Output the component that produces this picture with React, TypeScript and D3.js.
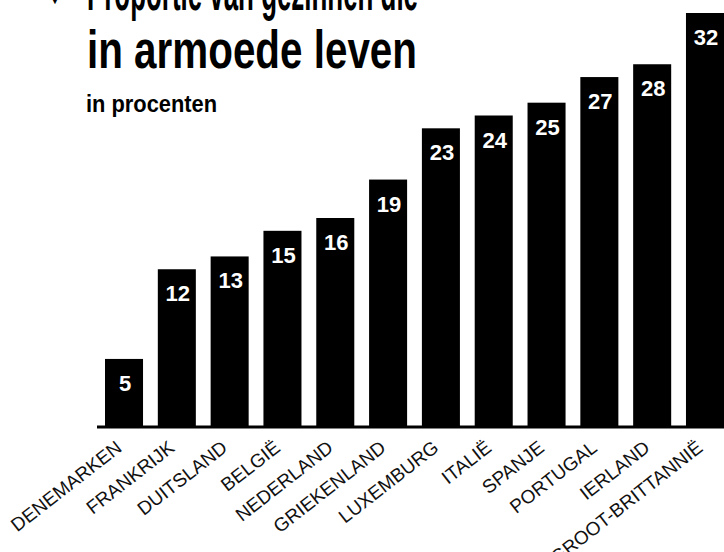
import * as d3 from 'd3'

const countries = [
  'DENEMARKEN', 'FRANKRIJK', 'DUITSLAND', 'BELGIË', 'NEDERLAND', 'GRIEKENLAND',
  'LUXEMBURG', 'ITALIË', 'SPANJE', 'PORTUGAL', 'IERLAND', 'GROOT-BRITTANNIË'
]
const values = [5, 12, 13, 15, 16, 19, 23, 24, 25, 27, 28, 32]
const titleLines = ['Proportie van gezinnen die', 'in armoede leven']
const subtitle = 'in procenten'

const W = 724
const H = 552
const titleFont = '"Liberation Sans Narrow", "Liberation Sans", Arial, sans-serif'
const labelFont = '"Liberation Sans", Arial, sans-serif'

const App = () => {
  const x = d3.scaleBand<string>()
    .domain(countries)
    .range([105, 724])
    .paddingInner(0.28)
    .paddingOuter(0)

  const y = d3.scaleLinear()
    .domain([0, 32])
    .range([423, 13])

  const baseline = y(0) + 4
  const data = countries.map((c, i) => ({ country: c, value: values[i] }))

  return (
    <svg width={W} height={H} style={{ position: 'absolute', left: 0, top: 0, background: '#fff' }}>
      {/* title, partly cut off at the top */}
      <text x={48} y={4} fontSize={14} fontFamily={labelFont}>▼</text>
      <text x={87} y={10} fontSize={53} fontWeight="bold" fontFamily={titleFont}
        textLength={331} lengthAdjust="spacingAndGlyphs">{titleLines[0]}</text>
      <text x={87} y={68} fontSize={53} fontWeight="bold" fontFamily={titleFont}
        textLength={330} lengthAdjust="spacingAndGlyphs">{titleLines[1]}</text>
      <text x={86} y={112} fontSize={23} fontWeight="bold" fontFamily={titleFont}
        textLength={131} lengthAdjust="spacingAndGlyphs">{subtitle}</text>

      {data.map(d => (
        <g key={d.country}>
          <rect x={x(d.country)} y={y(d.value)} width={x.bandwidth()}
            height={baseline - y(d.value)} fill="#000" />
          <text x={x(d.country)! + x.bandwidth() / 2 + 1} y={y(d.value) + 32}
            fill="#fff" fontSize={22} fontWeight="bold" textAnchor="middle"
            fontFamily={labelFont}>{d.value}</text>
          <text transform={`translate(${x(d.country)! + x.bandwidth() / 2 - 1},450) rotate(-38)`}
            textAnchor="end" fontSize={19} fontFamily={labelFont} fill="#111">{d.country}</text>
        </g>
      ))}

      <line x1={97} x2={W} y1={baseline} y2={baseline} stroke="#000" strokeWidth={3} />
    </svg>
  )
}

export default App
